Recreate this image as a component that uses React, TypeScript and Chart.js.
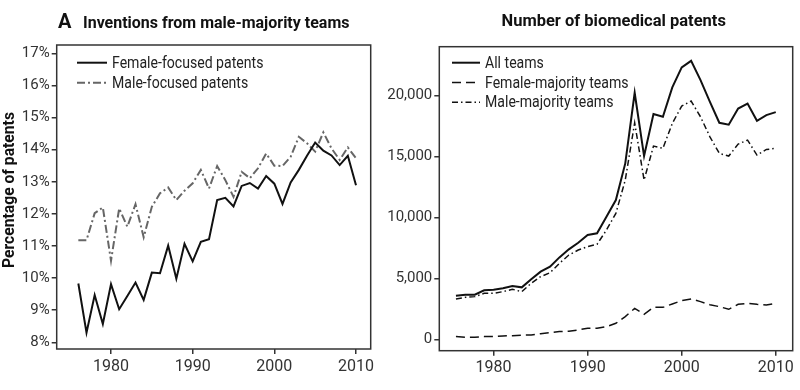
import React, { useEffect, useRef } from "react";
import { Chart, registerables } from "chart.js";
Chart.register(...registerables);

const years = [1976, 1977, 1978, 1979, 1980, 1981, 1982, 1983, 1984, 1985, 1986, 1987, 1988, 1989, 1990, 1991, 1992, 1993, 1994, 1995, 1996, 1997, 1998, 1999, 2000, 2001, 2002, 2003, 2004, 2005, 2006, 2007, 2008, 2009, 2010];

const femaleFocused = [9.83, 8.3, 9.47, 8.57, 9.81, 9.03, 9.44, 9.86, 9.32, 10.17, 10.15, 11.01, 9.98, 11.07, 10.52, 11.13, 11.21, 12.43, 12.5, 12.23, 12.87, 12.96, 12.79, 13.18, 12.94, 12.31, 12.98, 13.37, 13.81, 14.22, 13.97, 13.82, 13.52, 13.81, 12.89];
const maleFocused = [11.18, 11.18, 12.02, 12.2, 10.54, 12.17, 11.6, 12.3, 11.27, 12.22, 12.64, 12.82, 12.43, 12.72, 12.95, 13.37, 12.79, 13.49, 13.05, 12.53, 13.31, 13.11, 13.42, 13.88, 13.5, 13.49, 13.78, 14.4, 14.2, 13.94, 14.54, 14.04, 13.68, 14.07, 13.73];

const allTeams = [3580, 3660, 3660, 4020, 4070, 4180, 4370, 4260, 4920, 5550, 5960, 6720, 7380, 7920, 8550, 8690, 10060, 11420, 14430, 20220, 15030, 18470, 18250, 20660, 22300, 22840, 21260, 19480, 17760, 17600, 18930, 19340, 17920, 18390, 18630];
const femaleMajority = [220, 160, 160, 220, 220, 270, 300, 330, 360, 460, 550, 630, 660, 770, 900, 900, 1040, 1310, 1860, 2540, 2050, 2620, 2620, 2900, 3170, 3310, 3090, 2840, 2680, 2460, 2870, 2950, 2870, 2810, 2950];
const maleMajority = [3310, 3440, 3500, 3770, 3770, 3910, 4100, 3910, 4590, 5140, 5460, 6230, 6910, 7320, 7600, 7790, 8960, 10330, 13060, 17760, 13060, 15850, 15660, 17710, 19130, 19540, 18250, 16610, 15250, 15030, 16010, 16340, 15110, 15570, 15660];

const yearTicks = [1980, 1990, 2000, 2010];
const pctTicks = [8, 9, 10, 11, 12, 13, 14, 15, 16, 17];
const countTicks = [0, 5000, 10000, 15000, 20000];

const FONT = "Roboto, 'Liberation Sans', sans-serif";
const AXIS = "#333";

function pts(arr: number[]) {
  return years.map((x, i) => ({ x, y: arr[i] }));
}

function framePlugin() {
  return {
    id: "frame",
    afterDatasetsDraw(chart: any) {
      const { ctx, chartArea } = chart;
      const { left, top, right, bottom } = chartArea;
      ctx.save();
      ctx.strokeStyle = AXIS;
      ctx.lineWidth = 1.5;
      ctx.setLineDash([]);
      ctx.strokeRect(left, top, right - left, bottom - top);
      ctx.restore();
    },
  };
}

function drawText(ctx: any, text: string, x: number, y: number, font: string, align: string, sx: number, color: string) {
  ctx.save();
  ctx.font = font;
  ctx.fillStyle = color;
  ctx.textBaseline = "middle";
  ctx.textAlign = align;
  ctx.translate(x, y);
  ctx.scale(sx, 1);
  ctx.fillText(text, 0, 0);
  ctx.restore();
}

function legendPlugin(x: number, y: number, rowH: number, len: number) {
  return {
    id: "customLegend",
    afterDraw(chart: any) {
      const { ctx } = chart;
      chart.data.datasets.forEach((ds: any, i: number) => {
        const yy = y + i * rowH;
        ctx.save();
        ctx.strokeStyle = ds.borderColor;
        ctx.lineWidth = ds.borderWidth;
        ctx.setLineDash(ds.borderDash || []);
        ctx.beginPath();
        ctx.moveTo(x, yy);
        ctx.lineTo(x + len, yy);
        ctx.stroke();
        ctx.restore();
        drawText(ctx, ds.label, x + len + 5, yy + 1, `16px ${FONT}`, "left", 0.88, "#222");
      });
    },
  };
}

function textPlugin(items: { text: string; x: number; y: number; font: string; align?: string; rotate?: boolean; sx?: number }[]) {
  return {
    id: "texts",
    afterDraw(chart: any) {
      const { ctx } = chart;
      items.forEach((it) => {
        if (it.rotate) {
          ctx.save();
          ctx.translate(it.x, it.y);
          ctx.rotate(-Math.PI / 2);
          drawText(ctx, it.text, 0, 0, it.font, it.align || "left", it.sx || 1, "#111");
          ctx.restore();
        } else {
          drawText(ctx, it.text, it.x, it.y, it.font, it.align || "left", it.sx || 1, "#111");
        }
      });
    },
  };
}

function xScale(min: number, max: number, height: number) {
  return {
    type: "linear",
    min,
    max,
    afterBuildTicks: (s: any) => {
      s.ticks = yearTicks.map((v) => ({ value: v }));
    },
    afterFit: (s: any) => {
      s.height = height;
    },
    ticks: {
      callback: (v: any) => String(v),
      font: { family: FONT, size: 16 },
      color: AXIS,
      padding: 3,
      maxRotation: 0,
    },
    grid: { drawOnChartArea: false, drawTicks: true, tickLength: 5, color: AXIS, lineWidth: 1.5 },
    border: { display: false },
  };
}

function yScale(min: number, max: number, width: number, tickVals: number[], fmt: (v: number) => string) {
  return {
    type: "linear",
    min,
    max,
    afterBuildTicks: (s: any) => {
      s.ticks = tickVals.map((v) => ({ value: v }));
    },
    afterFit: (s: any) => {
      s.width = width;
    },
    ticks: {
      callback: (v: any) => fmt(Number(v)),
      font: { family: FONT, size: 15 },
      color: AXIS,
      padding: 2,
    },
    grid: { drawOnChartArea: false, drawTicks: true, tickLength: 5, color: AXIS, lineWidth: 1.5 },
    border: { display: false },
  };
}

function LeftChart() {
  const ref = useRef<HTMLCanvasElement>(null);
  useEffect(() => {
    const chart = new Chart(ref.current as HTMLCanvasElement, {
      type: "line",
      data: {
        datasets: [
          { label: "Female-focused patents", data: pts(femaleFocused), borderColor: "#111", borderWidth: 2, pointRadius: 0, tension: 0 },
          { label: "Male-focused patents", data: pts(maleFocused), borderColor: "#666", borderWidth: 2, borderDash: [8, 3, 2, 3], pointRadius: 0, tension: 0 },
        ],
      } as any,
      options: {
        responsive: false,
        animation: false,
        layout: { padding: { left: 0, right: 29.3, top: 45, bottom: 0 } },
        plugins: { legend: { display: false }, tooltip: { enabled: false }, title: { display: false } },
        scales: {
          x: xScale(1973.35, 2011.8, 41),
          y: yScale(7.79, 17.26, 56.7, pctTicks, (v) => `${v}%`),
        } as any,
      },
      plugins: [
        framePlugin(),
        legendPlugin(77, 62.7, 20, 30),
        textPlugin([
          { text: "A", x: 58, y: 23, font: `bold 20px ${FONT}` },
          { text: "Inventions from male-majority teams", x: 83, y: 24, font: `bold 17px ${FONT}`, sx: 0.94 },
          { text: "Percentage of patents", x: 10, y: 190, font: `bold 16.5px ${FONT}`, align: "center", sx: 0.95, rotate: true },
        ]),
      ],
    });
    return () => chart.destroy();
  }, []);
  return <canvas ref={ref} width={400} height={390} />;
}

const RIGHT_LEFT = 360;

function RightChart() {
  const ref = useRef<HTMLCanvasElement>(null);
  useEffect(() => {
    const chart = new Chart(ref.current as HTMLCanvasElement, {
      type: "line",
      data: {
        datasets: [
          { label: "All teams", data: pts(allTeams), borderColor: "#111", borderWidth: 2, pointRadius: 0, tension: 0 },
          { label: "Female-majority teams", data: pts(femaleMajority), borderColor: "#111", borderWidth: 1.5, borderDash: [9, 5], pointRadius: 0, tension: 0 },
          { label: "Male-majority teams", data: pts(maleMajority), borderColor: "#111", borderWidth: 1.5, borderDash: [6, 3, 1.5, 3], pointRadius: 0, tension: 0 },
        ],
      } as any,
      options: {
        responsive: false,
        animation: false,
        layout: { padding: { left: 0, right: 7.3, top: 46.7, bottom: 0 } },
        plugins: { legend: { display: false }, tooltip: { enabled: false }, title: { display: false } },
        scales: {
          x: xScale(1974.23, 2011.8, 39.3),
          y: yScale(-935, 24000, 439.3 - RIGHT_LEFT, countTicks, (v) => v.toLocaleString("en-US")),
        } as any,
      },
      plugins: [
        framePlugin(),
        legendPlugin(452 - RIGHT_LEFT, 62.7, 19.8, 28),
        textPlugin([
          { text: "Number of biomedical patents", x: 613.7 - RIGHT_LEFT, y: 22, font: `bold 17px ${FONT}`, align: "center", sx: 0.97 },
        ]),
      ],
    });
    return () => chart.destroy();
  }, []);
  return <canvas ref={ref} width={800 - RIGHT_LEFT} height={390} />;
}

export default function App() {
  return (
    <div style={{ position: "fixed", left: 0, top: 0, width: 800, height: 390, background: "#fff" }}>
      <div style={{ position: "absolute", left: 0, top: 0, width: 400, height: 390 }}>
        <LeftChart />
      </div>
      <div style={{ position: "absolute", left: RIGHT_LEFT, top: 0, width: 800 - RIGHT_LEFT, height: 390 }}>
        <RightChart />
      </div>
    </div>
  );
}
